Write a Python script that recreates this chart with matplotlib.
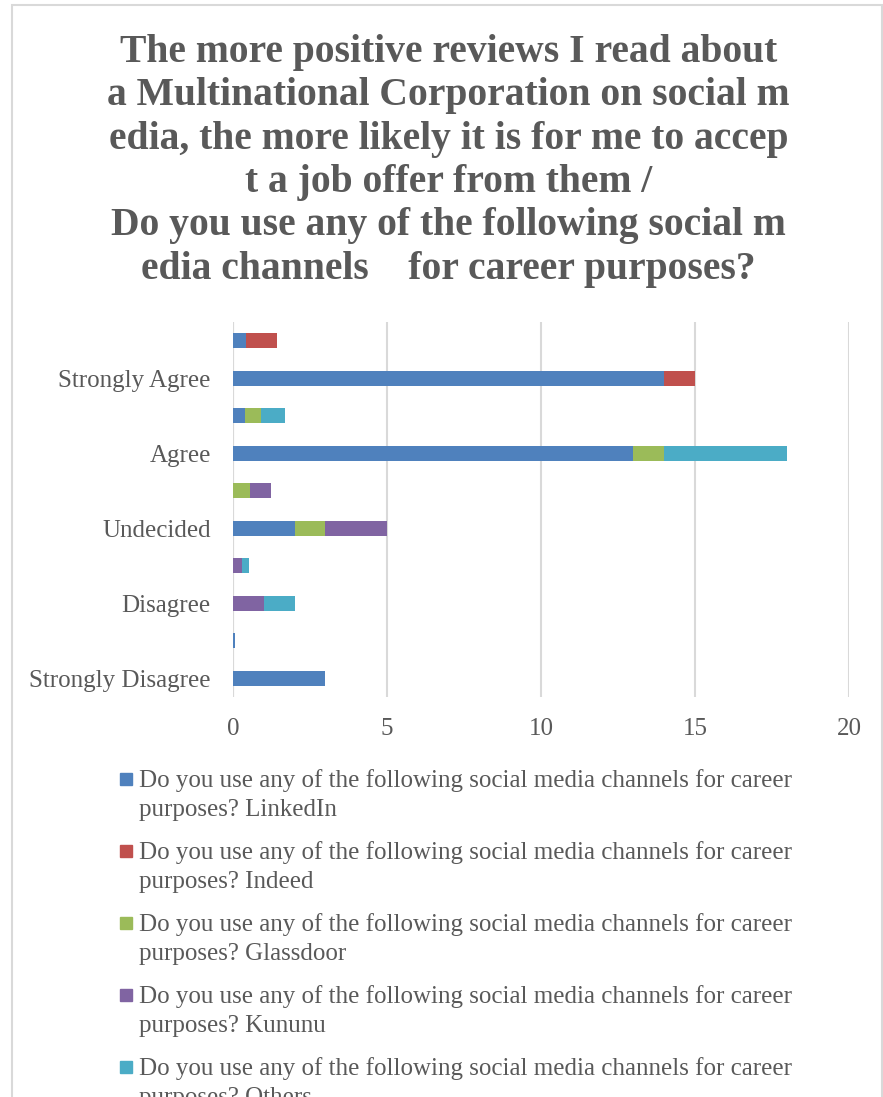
import textwrap
import matplotlib.pyplot as plt
from matplotlib.patches import Rectangle
import numpy as np

# categories, top to bottom; every answer has a small secondary row above it
categories = ['Strongly Agree', 'Agree', 'Undecided', 'Disagree', 'Strongly Disagree']
channels = ['LinkedIn', 'Indeed', 'Glassdoor', 'Kununu', 'Others']
colors = ['#4F81BD', '#C0504D', '#9BBB59', '#8064A2', '#4BACC6']

# counts per category (main rows)
linkedin = [14, 13, 2, 0, 3]
indeed = [1, 0, 0, 0, 0]
glassdoor = [0, 1, 1, 0, 0]
kununu = [0, 0, 2, 1, 0]
others = [0, 4, 0, 1, 0]

# secondary rows (shown above each category without label)
linkedin_sub = [0.42, 0.4, 0.0, 0.0, 0.08]
indeed_sub = [1.0, 0.0, 0.0, 0.0, 0.0]
glassdoor_sub = [0.0, 0.5, 0.55, 0.0, 0.0]
kununu_sub = [0.0, 0.0, 0.67, 0.3, 0.0]
others_sub = [0.0, 0.8, 0.0, 0.22, 0.0]

title = ('The more positive reviews I read about\n'
         'a Multinational Corporation on social m\n'
         'edia, the more likely it is for me to accep\n'
         't a job offer from them /\n'
         'Do you use any of the following social m\n'
         'edia channels    for career purposes?')
question = 'Do you use any of the following social media channels for career purposes?'

grey = '#595959'
W, H = 883, 1097
fig = plt.figure(figsize=(W / 100, H / 100), dpi=100)
plt.rcParams['font.family'] = ['Liberation Serif', 'DejaVu Serif']

# chart frame
fig.patches.append(Rectangle((12 / W, -0.1), 870 / W, 1.1 - 5 / H, transform=fig.transFigure,
                             fill=False, edgecolor='#D9D9D9', linewidth=1.5))

fig.text(0.508, 1 - 34 / H, title, ha='center', va='top', fontsize=28.5,
         fontweight='bold', color=grey, linespacing=1.225)

ax = fig.add_axes([233 / W, 1 - 697 / H, 616 / W, 375 / H])

main = np.array([linkedin, indeed, glassdoor, kununu, others], dtype=float)
sub = np.array([linkedin_sub, indeed_sub, glassdoor_sub, kununu_sub, others_sub])
n = len(categories)
y_main = np.arange(n) * 2 + 1
y_sub = np.arange(n) * 2

left_main = np.zeros(n)
left_sub = np.zeros(n)
for i in range(len(channels)):
    ax.barh(y_main, main[i], left=left_main, height=0.4, color=colors[i], zorder=3)
    ax.barh(y_sub, sub[i], left=left_sub, height=0.4, color=colors[i], zorder=3)
    left_main += main[i]
    left_sub += sub[i]

ax.set_xlim(0, 20)
ax.set_ylim(2 * n - 0.5, -0.5)
ax.set_xticks([0, 5, 10, 15, 20])
ax.set_yticks(y_main)
ax.set_yticklabels(categories)
ax.xaxis.grid(True, color='#D9D9D9', linewidth=1.5, zorder=0)
ax.axvline(0, color='#D9D9D9', linewidth=1.5, zorder=1)
for s in ax.spines.values():
    s.set_visible(False)
ax.tick_params(length=0, labelsize=18, colors=grey)
ax.tick_params(axis='x', pad=15)
ax.tick_params(axis='y', pad=16)

# legend, drawn by hand so the marker sits on the first line
for i, ch in enumerate(channels):
    y0 = 779 + i * 72
    fig.patches.append(Rectangle((120 / W, 1 - (y0 + 6) / H), 12 / W, 12 / H,
                                 transform=fig.transFigure, color=colors[i]))
    label = textwrap.fill(question + ' ' + ch, 66)
    fig.text(139 / W, 1 - (y0 - 10) / H, label, ha='left', va='top',
             fontsize=18, color=grey, linespacing=1.4)

fig.savefig('out.png', dpi=100)
